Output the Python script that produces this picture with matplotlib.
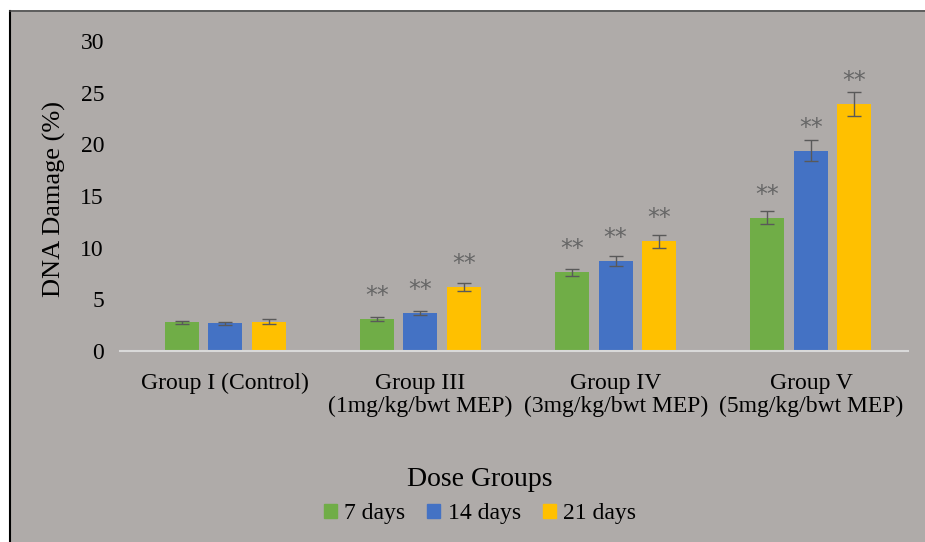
import numpy as np
import matplotlib.pyplot as plt
from matplotlib.patches import Rectangle, Patch
from matplotlib.lines import Line2D

plt.rcParams['font.family'] = ['Liberation Serif', 'DejaVu Serif']

groups = ['Group I (Control)', 'Group III\n(1mg/kg/bwt MEP)',
          'Group IV\n(3mg/kg/bwt MEP)', 'Group V\n(5mg/kg/bwt MEP)']
series = ['7 days', '14 days', '21 days']
colors = ['#70AD47', '#4472C4', '#FFC000']

days7 = [2.8, 3.1, 7.6, 12.9]
days14 = [2.7, 3.7, 8.7, 19.4]
days21 = [2.85, 6.2, 10.6, 23.9]
err7 = [0.15, 0.2, 0.35, 0.65]
err14 = [0.15, 0.2, 0.45, 1.0]
err21 = [0.2, 0.35, 0.6, 1.2]
signif = [False, True, True, True]

bg = '#AFABA9'
fig = plt.figure(figsize=(9.25, 5.42), dpi=100)
fig.patch.set_facecolor('white')
fig.patches.append(Rectangle((10 / 925, 0), 1, (542 - 12) / 542, transform=fig.transFigure,
                             facecolor=bg, edgecolor='none', zorder=-2))
fig.lines.append(Line2D([10 / 925, 10 / 925], [0, (542 - 11) / 542], transform=fig.transFigure,
                        color='black', lw=1.5))
fig.lines.append(Line2D([10 / 925, 1], [(542 - 11) / 542, (542 - 11) / 542],
                        transform=fig.transFigure, color='#404040', lw=1.2))

ax = fig.add_axes([120 / 925, (542 - 351) / 542, (908 - 120) / 925, (351 - 41) / 542])
ax.set_facecolor(bg)

unit = 195.3  # pixels per category
x = np.arange(len(groups))
w = 34 / unit
step = 43.5 / unit
vals = [days7, days14, days21]
errs = [err7, err14, err21]
for i in range(3):
    xs = x + (i - 1) * step
    ax.bar(xs, vals[i], w, color=colors[i], label=series[i], zorder=2)
    ax.errorbar(xs, vals[i], yerr=errs[i], fmt='none', ecolor='#595959',
                elinewidth=1, capsize=5, capthick=1, zorder=3)
    for j in range(len(groups)):
        if signif[j]:
            ax.text(xs[j], vals[i][j] + 1.55, '**', ha='center', va='baseline',
                    fontsize=17, color='#666666', family='DejaVu Sans')

ax.set_xlim(-105 / unit, 3 + 97 / unit)
ax.set_ylim(0, 30)
ax.set_yticks(range(0, 31, 5))
ax.set_xticks(x)
ax.set_xticklabels(groups, fontsize=17, linespacing=1.1)
ax.tick_params(length=0, labelsize=17)
ax.tick_params(axis='y', pad=11.5)
ax.tick_params(axis='x', pad=16)
for s in ['top', 'right', 'left']:
    ax.spines[s].set_visible(False)
ax.spines['bottom'].set_color('#D9D9D9')
ax.spines['bottom'].set_linewidth(1.5)
ax.set_ylabel('DNA Damage (%)', fontsize=19)
ax.yaxis.set_label_coords(-0.068, 0.49)

fig.text(480 / 925, (542 - 479) / 542, 'Dose Groups', ha='center', va='center', fontsize=20)
handles = [Patch(color=c) for c in colors]
fig.legend(handles, series, loc='center', bbox_to_anchor=(480 / 925, (542 - 514) / 542),
           ncol=3, frameon=False, fontsize=17, handlelength=0.55, handleheight=0.55,
           handletextpad=0.3, columnspacing=0.95)

plt.savefig('out.png', dpi=100, facecolor=fig.get_facecolor())
